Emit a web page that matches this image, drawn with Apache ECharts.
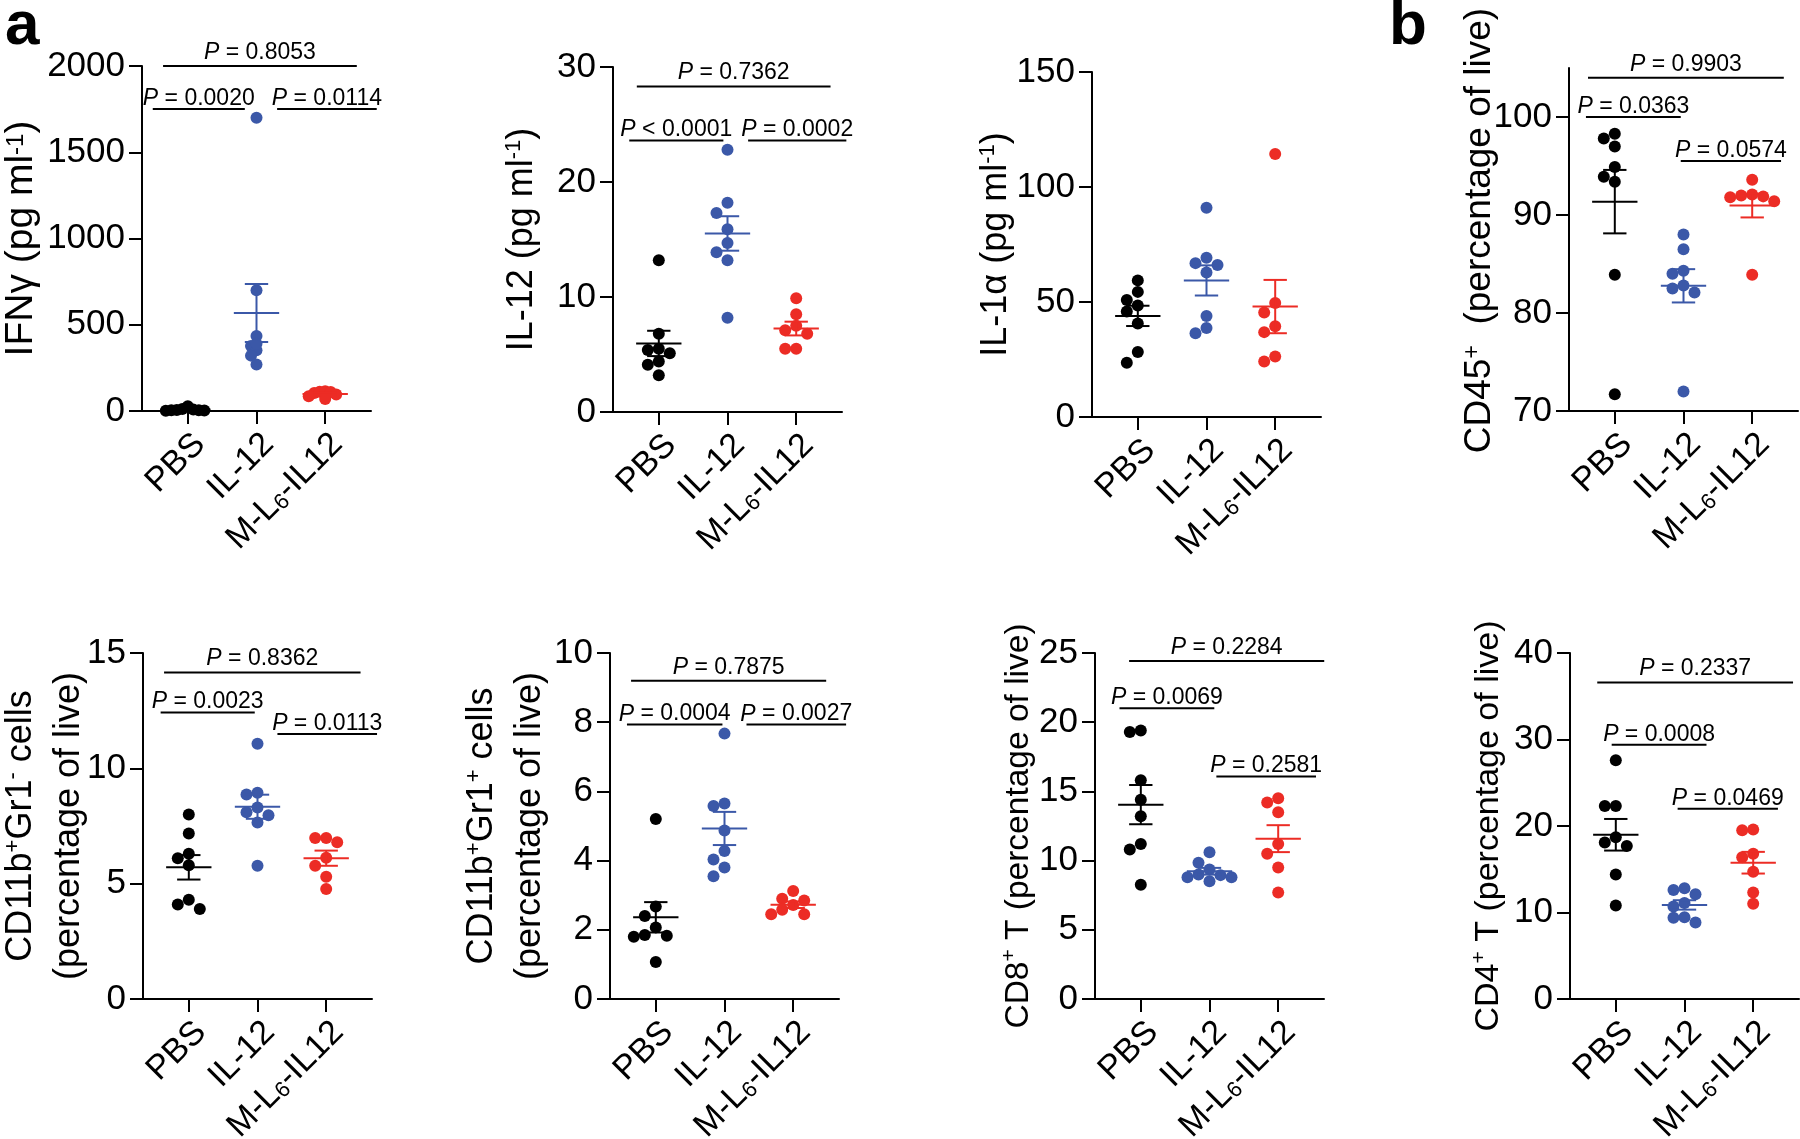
<!DOCTYPE html>
<html><head><meta charset="utf-8">
<script src="https://cdn.jsdelivr.net/npm/echarts@6/dist/echarts.min.js"></script>
<style>html,body{margin:0;padding:0;background:#fff}#c{width:1800px;height:1139px}</style>
</head><body><div id="c"></div>
<script>
// ---------- data ----------
const categories = ['PBS', 'IL-12', 'M-L6-IL12'];

// each panel: [PBS, IL-12, M-L6-IL12]
const ifngValues = [
  [28, 12, 6, 4, 3, 8, 5, 2],
  [1700, 700, 435, 377, 352, 390, 321, 270],
  [105, 112, 115, 110, 70, 95, 85]
];
const il12Values = [
  [13.2, 6.8, 5.1, 5.5, 5.4, 4.1, 4.4, 3.2],
  [22.8, 18.2, 17.3, 15.9, 13.9, 14.7, 13.2, 8.2],
  [9.9, 8.5, 7.1, 7.5, 6.8, 5.5, 5.5]
];
const il1aValues = [
  [59.4, 54.4, 50.9, 48.5, 45.9, 40.7, 28.3, 23.6],
  [91, 69.2, 66.1, 66.9, 62.8, 43.9, 36.4, 38.7],
  [114.3, 49.6, 45.4, 39.5, 36.9, 26.3, 24.1]
];
const cd45Values = [
  [98.3, 97.8, 97.0, 94.9, 93.9, 93.4, 83.9, 71.7],
  [88.0, 86.5, 84.3, 84.0, 82.8, 82.5, 82.1, 72.0],
  [93.6, 92.1, 92.0, 91.9, 91.8, 91.4, 83.9]
];
const gr1negValues = [
  [8.0, 7.17, 6.3, 6.1, 5.8, 4.3, 4.1, 3.9],
  [11.07, 8.94, 8.87, 8.1, 8.3, 7.97, 7.65, 5.78],
  [6.8, 6.98, 6.98, 6.12, 5.78, 5.3, 4.77]
];
const gr1posValues = [
  [5.2, 2.67, 2.4, 2.07, 1.83, 1.85, 1.8, 1.07],
  [7.67, 5.65, 5.58, 4.87, 4.03, 4.28, 3.8, 3.55],
  [3.12, 2.85, 2.9, 2.72, 2.45, 2.45, 2.58]
];
const cd8Values = [
  [19.3, 19.4, 15.8, 14.4, 13.2, 11.2, 10.8, 8.25],
  [10.6, 9.85, 9.35, 8.8, 8.8, 9.0, 8.95, 8.5],
  [14.5, 14.2, 13.5, 11.2, 10.5, 9.5, 7.7]
];
const cd4Values = [
  [27.6, 22.3, 22.3, 18.7, 17.7, 18.1, 14.4, 10.8],
  [12.6, 12.8, 12.1, 11.1, 10.7, 9.45, 9.4, 8.85],
  [19.6, 19.5, 16.8, 16.4, 14.7, 12.3, 11.0]
];

// y tick labels
const ifngTicks = [0, 500, 1000, 1500, 2000];
const il12Ticks = [0, 10, 20, 30];
const il1aTicks = [0, 50, 100, 150];
const cd45Ticks = [70, 80, 90, 100];
const cd45Range = [70, 105];
const gr1negTicks = [0, 5, 10, 15];
const gr1posTicks = [0, 2, 4, 6, 8, 10];
const cd8Ticks = [0, 5, 10, 15, 20, 25];
const cd4Ticks = [0, 10, 20, 30, 40];

// P values: [overall, PBS vs IL-12, IL-12 vs M-L6-IL12]
const ifngP = ['= 0.8053', '= 0.0020', '= 0.0114'];
const il12P = ['= 0.7362', '< 0.0001', '= 0.0002'];
const cd45P = ['= 0.9903', '= 0.0363', '= 0.0574'];
const gr1negP = ['= 0.8362', '= 0.0023', '= 0.0113'];
const gr1posP = ['= 0.7875', '= 0.0004', '= 0.0027'];
const cd8P = ['= 0.2284', '= 0.0069', '= 0.2581'];
const cd4P = ['= 0.2337', '= 0.0008', '= 0.0469'];

// comparison brackets [from category pos, to category pos, level]
const ifngBrackets = [[0.64, 3.46, 2000], [0.49, 1.83, 1751], [2.30, 3.75, 1751]];
const il12Brackets = [[0.68, 3.50, 28.3], [0.57, 1.94, 23.6], [2.30, 3.73, 23.6]];
const cd45Brackets = [[0.61, 3.46, 104.0], [0.58, 1.96, 100.0], [1.96, 3.42, 95.5]];
const gr1negBrackets = [[0.64, 3.50, 14.15], [0.59, 1.96, 12.42], [2.29, 3.74, 11.49]];
const gr1posBrackets = [[0.64, 3.48, 9.2], [0.58, 1.97, 7.93], [2.32, 3.77, 7.93]];
const cd8Brackets = [[0.83, 3.67, 24.43], [0.69, 2.07, 21.0], [2.10, 3.55, 16.08]];
const cd4Brackets = [[0.73, 3.58, 36.6], [0.94, 2.32, 29.4], [1.90, 3.36, 22.0]];

// axis titles (rich text: m = main, s = superscript)
const ifngTitle = '{m|IFNγ (pg ml}{s|-1}{m|)}';
const il12Title = '{m|IL-12 (pg ml}{s|-1}{m|)}';
const il1aTitle = '{m|IL-1α (pg ml}{s|-1}{m|)}';
const cd45Title = '{m|CD45}{s|+}{m|  (percentage of live)}';
const gr1negTitle = '{m|CD11b}{s|+}{m|Gr1}{s|-}{m| cells}\n{m|(percentage of live)}';
const gr1posTitle = '{m|CD11b}{s|+}{m|Gr1}{s|+}{m| cells}\n{m|(percentage of live)}';
const cd8Title = '{m|CD8}{s|+}{m| T (percentage of live)}';
const cd4Title = '{m|CD4}{s|+}{m| T (percentage of live)}';

// ---------- styling / layout ----------
const F = '"Liberation Sans", Arial, Helvetica, sans-serif';
const COLORS = ['#000000', '#3b58a8', '#ec2c25'];
const FS = 35, CFS = 34, PFS = 23;
const GRID_W = 229;
const X_MIN = 1 / 3, X_MAX = 11 / 3;

const panels = [
  {values: ifngValues, ticks: ifngTicks, title: ifngTitle, tfs: 39, p: ifngP, br: ifngBrackets, left: 142, top: 66, height: 345, gap: 101, swarm: 5.5},
  {values: il12Values, ticks: il12Ticks, title: il12Title, tfs: 36, p: il12P, br: il12Brackets, left: 613, top: 67, height: 345, gap: 73},
  {values: il1aValues, ticks: il1aTicks, title: il1aTitle, tfs: 36, p: [], br: [], left: 1092, top: 72, height: 345, gap: 78},
  {values: cd45Values, ticks: cd45Ticks, range: cd45Range, title: cd45Title, tfs: 37, tpad: 18, p: cd45P, br: cd45Brackets, left: 1569, top: 68, height: 343, gap: 71},
  {values: gr1negValues, ticks: gr1negTicks, title: gr1negTitle, tfs: 36, p: gr1negP, br: gr1negBrackets, left: 143, top: 653, height: 346, gap: 56},
  {values: gr1posValues, ticks: gr1posTicks, title: gr1posTitle, tfs: 36, p: gr1posP, br: gr1posBrackets, left: 610, top: 653, height: 346, gap: 62},
  {values: cd8Values, ticks: cd8Ticks, title: cd8Title, tfs: 33.5, p: cd8P, br: cd8Brackets, left: 1095, top: 653, height: 346, gap: 59},
  {values: cd4Values, ticks: cd4Ticks, title: cd4Title, tfs: 34, p: cd4P, br: cd4Brackets, left: 1570, top: 653, height: 346, gap: 64}
];

const catRich = ['{m|PBS}', '{m|IL-12}', '{m|M-L}{b|6}{m|-IL12}'];
const catStyles = {
  m: {fontSize: CFS, fontFamily: F, color: '#000', lineHeight: CFS, verticalAlign: 'top', padding: [0, 0, 5, 0]},
  b: {fontSize: 22, fontFamily: F, color: '#000', lineHeight: 22, verticalAlign: 'bottom'}
};
function titleStyles(fs) {
  return {
    m: {fontSize: fs, fontFamily: F, color: '#000', lineHeight: 48, verticalAlign: 'bottom', padding: [6, 0, 0, 0]},
    s: {fontSize: Math.round(fs * 0.62), fontFamily: F, color: '#000', lineHeight: 20, verticalAlign: 'top', padding: [11, 0, 0, 0]}
  };
}

function swarmOffsets(vals, pxPerY, gap) {
  const order = vals.map((v, i) => i).sort((a, b) => vals[b] - vals[a]);
  const placed = [];
  const off = vals.map(() => 0);
  order.forEach(i => {
    const y = vals[i] * pxPerY;
    for (let k = 0; k < 60; k++) {
      const n = Math.ceil(k / 2);
      const cand = k === 0 ? 0 : (k % 2 ? -n * gap : n * gap);
      if (placed.every(p => Math.hypot(p.x - cand, p.y - y) >= gap - 0.01)) {
        off[i] = cand; placed.push({x: cand, y: y}); break;
      }
    }
  });
  return off;
}
function meanSem(vals) {
  const n = vals.length;
  const m = vals.reduce((a, b) => a + b, 0) / n;
  const sd = Math.sqrt(vals.reduce((a, b) => a + (b - m) * (b - m), 0) / (n - 1));
  return [m, sd / Math.sqrt(n)];
}

const grids = [], xAxes = [], yAxes = [], series = [];
panels.forEach((pn, i) => {
  const range = pn.range || [pn.ticks[0], pn.ticks[pn.ticks.length - 1]];
  grids.push({left: pn.left, top: pn.top, width: GRID_W, height: pn.height, containLabel: false, outerBoundsMode: 'none', show: false});
  xAxes.push({
    gridIndex: i, type: 'value', min: X_MIN, max: X_MAX,
    axisLine: {show: true, onZero: false, lineStyle: {color: '#000', width: 2}},
    axisTick: {show: true, customValues: [1, 2, 3], length: 13, lineStyle: {color: '#000', width: 2}},
    axisLabel: {show: true, customValues: [1, 2, 3], rotate: 45, margin: 16, verticalAlign: 'top',
      formatter: v => catRich[Math.round(v) - 1] || '', rich: catStyles,
      color: '#000', fontSize: CFS, fontFamily: F},
    splitLine: {show: false}
  });
  const nameStyle = {rich: titleStyles(pn.tfs), fontSize: pn.tfs, fontFamily: F, color: '#000'};
  if (pn.tpad) nameStyle.padding = [0, 0, 0, pn.tpad];
  yAxes.push({
    gridIndex: i, type: 'value', min: range[0], max: range[1],
    axisLine: {show: true, onZero: false, lineStyle: {color: '#000', width: 2}},
    axisTick: {show: true, customValues: pn.ticks, length: 13, lineStyle: {color: '#000', width: 2}},
    axisLabel: {show: true, customValues: pn.ticks, margin: 17, color: '#000', fontSize: FS, fontFamily: F,
      formatter: v => String(v)},
    splitLine: {show: false},
    name: pn.title, nameLocation: 'middle', nameGap: pn.gap, nameRotate: 90, nameMoveOverlap: false,
    nameTextStyle: nameStyle
  });
  const pxPerY = pn.height / (range[1] - range[0]);
  const pxPerX = GRID_W / (X_MAX - X_MIN);
  pn.values.forEach((vals, g) => {
    const off = swarmOffsets(vals, pxPerY, pn.swarm || 11);
    series.push({
      type: 'scatter', xAxisIndex: i, yAxisIndex: i, silent: true, z: 2,
      symbol: 'circle', symbolSize: 12,
      itemStyle: {color: COLORS[g], opacity: 1, borderWidth: 0},
      data: vals.map((v, k) => [g + 1 + off[k] / pxPerX, v])
    });
  });
  const stats = pn.values.map((vals, g) => [g + 1].concat(meanSem(vals)));
  series.push({
    type: 'custom', xAxisIndex: i, yAxisIndex: i, silent: true, z: 3, clip: false,
    data: stats,
    renderItem: (params, api) => {
      const x = api.value(0), m = api.value(1), s = api.value(2);
      const c = api.coord([x, m]), t = api.coord([x, m + s]), b = api.coord([x, m - s]);
      const w = api.size([1, 0])[0];
      const st = {stroke: COLORS[params.dataIndex], lineWidth: 2};
      return {type: 'group', children: [
        {type: 'line', shape: {x1: c[0] - 0.33 * w, y1: c[1], x2: c[0] + 0.33 * w, y2: c[1]}, style: st},
        {type: 'line', shape: {x1: c[0], y1: t[1], x2: c[0], y2: b[1]}, style: st},
        {type: 'line', shape: {x1: c[0] - 0.17 * w, y1: t[1], x2: c[0] + 0.17 * w, y2: t[1]}, style: st},
        {type: 'line', shape: {x1: c[0] - 0.17 * w, y1: b[1], x2: c[0] + 0.17 * w, y2: b[1]}, style: st}
      ]};
    }
  });
  if (pn.br.length) {
    const pv = pn.p;
    series.push({
      type: 'custom', xAxisIndex: i, yAxisIndex: i, silent: true, z: 4, clip: false,
      data: pn.br,
      renderItem: (params, api) => {
        const p1 = api.coord([api.value(0), api.value(2)]);
        const p2 = api.coord([api.value(1), api.value(2)]);
        const k = params.dataIndex;
        return {type: 'group', children: [
          {type: 'line', shape: {x1: p1[0], y1: p1[1], x2: p2[0], y2: p1[1]}, style: {stroke: '#000', lineWidth: 2}},
          {type: 'text', x: (p1[0] + p2[0]) / 2, y: p1[1] + (k === 0 ? -2 : 1),
            style: {text: '{i|P}{n| ' + pv[k] + '}', align: 'center', verticalAlign: 'bottom',
              fontSize: PFS, fontFamily: F, fill: '#000',
              rich: {i: {fontStyle: 'italic', fontSize: PFS, fontFamily: F, fill: '#000'},
                     n: {fontSize: PFS, fontFamily: F, fill: '#000'}}}}
        ]};
      }
    });
  }
});

const chart = echarts.init(document.getElementById('c'), null, {renderer: 'canvas'});
chart.setOption({
  animation: false,
  backgroundColor: '#fff',
  grid: grids, xAxis: xAxes, yAxis: yAxes, series: series,
  graphic: [
    {type: 'text', left: 5, top: -4, style: {text: 'a', font: 'bold 62px ' + F, fill: '#000'}},
    {type: 'text', left: 1389, top: -4, style: {text: 'b', font: 'bold 62px ' + F, fill: '#000'}}
  ]
});
</script>
</body></html>
